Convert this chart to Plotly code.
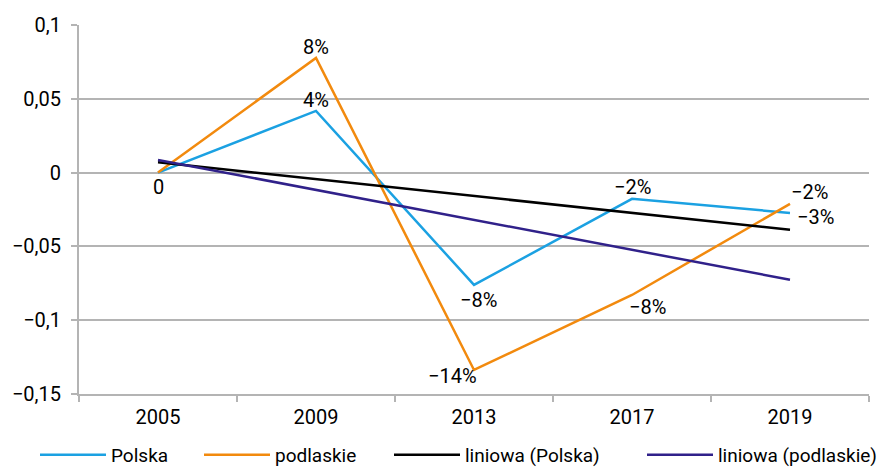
"""Line chart: Polska vs podlaskie with linear trend lines."""
import plotly.graph_objects as go

years = ["2005", "2009", "2013", "2017", "2019"]
polska = [0.0, 0.0418, -0.0761, -0.0178, -0.0273]
podlaskie = [0.0, 0.0777, -0.1337, -0.0829, -0.0212]
trend_polska = [0.0070, -0.0045, -0.0159, -0.0273, -0.0387]
trend_podlaskie = [0.0086, -0.0117, -0.0320, -0.0523, -0.0726]

polska_labels = ["0", "4%", "−8%", "−2%", "−3%"]
podlaskie_labels = ["", "8%", "−14%", "−8%", "−2%"]

y_ticks = [0.1, 0.05, 0, -0.05, -0.1, -0.15]
y_ticktext = ["0,1", "0,05", "0", "−0,05", "−0,1", "−0,15"]

# label offsets (px) from each point
polska_shift = [(0, -14), (0, 11), (4, -15), (0, 12), (25, -4)]
podlaskie_shift = [(0, 0), (0, 11), (-22, -6), (15, -12), (19, 12)]

FONT = "Roboto, sans-serif"
BLUE = "#1ba1e2"
ORANGE = "#f28a0e"
PURPLE = "#30218a"
GRID = "#b4b4b4"

# page body adds an 8px margin, so the figure is drawn 8px smaller
W, H = 878, 459

fig = go.Figure()

fig.add_trace(go.Scatter(
    x=years, y=polska, name="Polska", mode="lines",
    line=dict(color=BLUE, width=2.5), legend="legend",
))
fig.add_trace(go.Scatter(
    x=years, y=podlaskie, name="podlaskie", mode="lines",
    line=dict(color=ORANGE, width=2.5), legend="legend2",
))
fig.add_trace(go.Scatter(
    x=years, y=trend_polska, name="liniowa (Polska)", mode="lines",
    line=dict(color="black", width=2.5), legend="legend3",
))
fig.add_trace(go.Scatter(
    x=years, y=trend_podlaskie, name="liniowa (podlaskie)", mode="lines",
    line=dict(color=PURPLE, width=2.5), legend="legend4",
))

# data labels (x given as category index so "2005" isn't read as a number)
for vals, labels, shifts in [(polska, polska_labels, polska_shift),
                             (podlaskie, podlaskie_labels, podlaskie_shift)]:
    for i, (y, t, (dx, dy)) in enumerate(zip(vals, labels, shifts)):
        if not t:
            continue
        fig.add_annotation(x=i, y=y, text=t, showarrow=False,
                           xshift=dx, yshift=dy,
                           font=dict(size=20, color="black"))


def _legend(x_px):
    return dict(orientation="h", xref="container", yref="container",
                x=x_px / W, xanchor="left", y=(H - 447) / H,
                yanchor="middle", font=dict(size=19), itemwidth=66,
                bgcolor="rgba(0,0,0,0)", borderwidth=0)


fig.update_layout(
    width=W, height=H,
    template="plotly_white",
    plot_bgcolor="white", paper_bgcolor="white",
    margin=dict(l=71, r=17, t=17, b=73, autoexpand=False),
    font=dict(family=FONT, size=20, color="black"),
    showlegend=True,
    legend=_legend(27),
    legend2=_legend(191),
    legend3=_legend(381),
    legend4=_legend(634),
    hovermode=False,
)
fig.update_xaxes(
    type="category", range=[-0.5, 4.5], showgrid=False, automargin=False,
    showline=True, linecolor=GRID, linewidth=2,
    ticks="outside", tickson="boundaries", ticklen=6, tickcolor=GRID,
    tickwidth=2, tickfont=dict(size=20), ticklabelstandoff=4,
)
fig.update_yaxes(
    range=[-0.15, 0.1], tickvals=y_ticks, ticktext=y_ticktext,
    automargin=False,
    showgrid=True, gridcolor=GRID, gridwidth=2,
    showline=True, linecolor=GRID, linewidth=2,
    ticks="outside", ticklen=6, tickcolor=GRID, tickwidth=2,
    ticklabelstandoff=6,
    zeroline=False, tickfont=dict(size=20),
)

fig.write_html("out.html")
